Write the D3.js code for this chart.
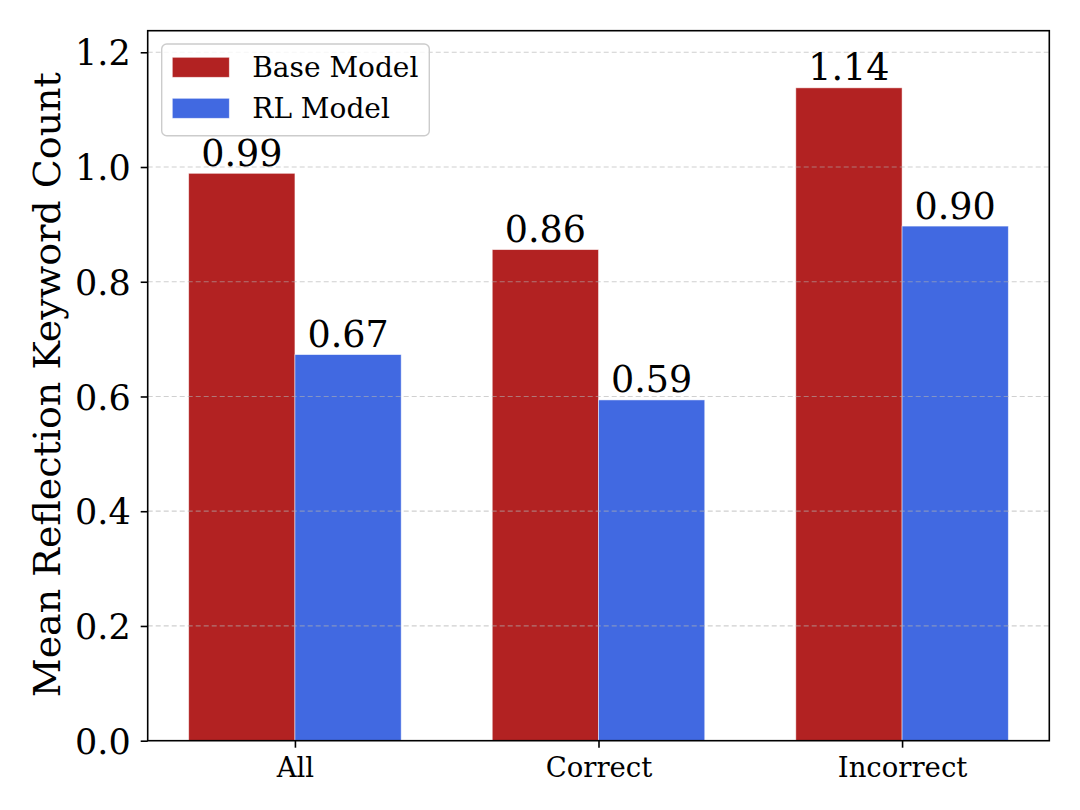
<!DOCTYPE html>
<html>
<head>
<meta charset="utf-8">
<script src="https://cdn.jsdelivr.net/npm/d3@7"></script>
<style>
  html, body { margin: 0; padding: 0; background: #fff; }
  svg { display: block; font-family: "DejaVu Serif", serif; }
</style>
</head>
<body>
<svg id="chart" width="1080" height="810"></svg>
<script>
const categories = ["All", "Correct", "Incorrect"];
const baseValues = [0.989, 0.856, 1.138];
const rlValues = [0.673, 0.594, 0.897];
const seriesNames = ["Base Model", "RL Model"];
const seriesColors = ["#B22222", "#4169E1"];
const yTicks = [0.0, 0.2, 0.4, 0.6, 0.8, 1.0, 1.2];
const yLabel = "Mean Reflection Keyword Count";

(function () {
const svg = d3.select("#chart");
const pLeft = 147.7, pRight = 1049.3, pTop = 30.7, pBottom = 740.7;
const barW = 0.35;

const x = d3.scaleLinear().domain([-0.485, 2.485]).range([pLeft, pRight]);
const y = d3.scaleLinear().domain([0, 1.2376]).range([pBottom, pTop]);

const series = [baseValues, rlValues];

// bars
series.forEach((vals, s) => {
  svg.append("g").selectAll("rect").data(vals).join("rect")
    .attr("x", (d, i) => x(i + (s === 0 ? -barW : 0)))
    .attr("width", x(barW) - x(0))
    .attr("y", d => y(d))
    .attr("height", d => y(0) - y(d))
    .attr("fill", seriesColors[s])
    .attr("stroke", "#ffffff")
    .attr("stroke-opacity", 0.6)
    .attr("stroke-width", 0.8);
});

// grid (above bars)
svg.append("g").selectAll("line").data(yTicks.filter(t => t > 0)).join("line")
  .attr("x1", pLeft).attr("x2", pRight)
  .attr("y1", d => y(d)).attr("y2", d => y(d))
  .attr("stroke", "#b0b0b0")
  .attr("stroke-opacity", 0.6)
  .attr("stroke-width", 1.2)
  .attr("stroke-dasharray", "5,3");

// value labels
series.forEach((vals, s) => {
  svg.append("g").selectAll("text").data(vals).join("text")
    .attr("x", (d, i) => x(i + (s === 0 ? -barW / 2 : barW / 2)))
    .attr("y", d => y(d) - 7.5)
    .attr("text-anchor", "middle")
    .attr("font-size", 36.5)
    .attr("fill", "#000")
    .text(d => d.toFixed(2));
});

// axes
const yAxis = d3.axisLeft(y).tickValues(yTicks).tickFormat(d3.format(".1f")).tickSize(7).tickPadding(10);
const gy = svg.append("g").attr("transform", `translate(${pLeft},0)`).call(yAxis);
gy.select(".domain").remove();
gy.selectAll(".tick line").attr("stroke", "#000").attr("stroke-width", 1.6);
gy.selectAll(".tick text").attr("font-size", 35).attr("font-family", "DejaVu Serif").attr("fill", "#000").attr("dy", "0.36em");

const xAxis = d3.axisBottom(x).tickValues(categories.map((c, i) => i)).tickFormat(i => categories[i]).tickSize(7).tickPadding(8);
const gx = svg.append("g").attr("transform", `translate(0,${pBottom})`).call(xAxis);
gx.select(".domain").remove();
gx.selectAll(".tick line").attr("stroke", "#000").attr("stroke-width", 1.6);
gx.selectAll(".tick text").attr("font-size", 27.5).attr("font-family", "DejaVu Serif").attr("fill", "#000").attr("dy", "0.76em");

// frame
svg.append("rect")
  .attr("x", pLeft).attr("y", pTop)
  .attr("width", pRight - pLeft).attr("height", pBottom - pTop)
  .attr("fill", "none").attr("stroke", "#000").attr("stroke-width", 1.6);

// y label
svg.append("text")
  .attr("transform", `translate(60,${(pTop + pBottom) / 2 - 1}) rotate(-90)`)
  .attr("text-anchor", "middle")
  .attr("font-size", 38)
  .attr("fill", "#000")
  .text(yLabel);

// legend
const lg = svg.append("g");
lg.append("rect")
  .attr("x", 161.7).attr("y", 44)
  .attr("width", 267.6).attr("height", 91.7)
  .attr("rx", 5).attr("ry", 5)
  .attr("fill", "#fff").attr("fill-opacity", 0.8)
  .attr("stroke", "#cccccc").attr("stroke-width", 1.4);
seriesNames.forEach((name, i) => {
  const yy = 57.3 + i * 41;
  lg.append("rect")
    .attr("x", 172.3).attr("y", yy)
    .attr("width", 57).attr("height", 20)
    .attr("fill", seriesColors[i])
    .attr("stroke", "#fff").attr("stroke-opacity", 0.6).attr("stroke-width", 0.8);
  lg.append("text")
    .attr("x", 252.3).attr("y", yy + 20)
    .attr("font-size", 28)
    .attr("fill", "#000")
    .text(name);
});
})();
</script>
</body>
</html>
